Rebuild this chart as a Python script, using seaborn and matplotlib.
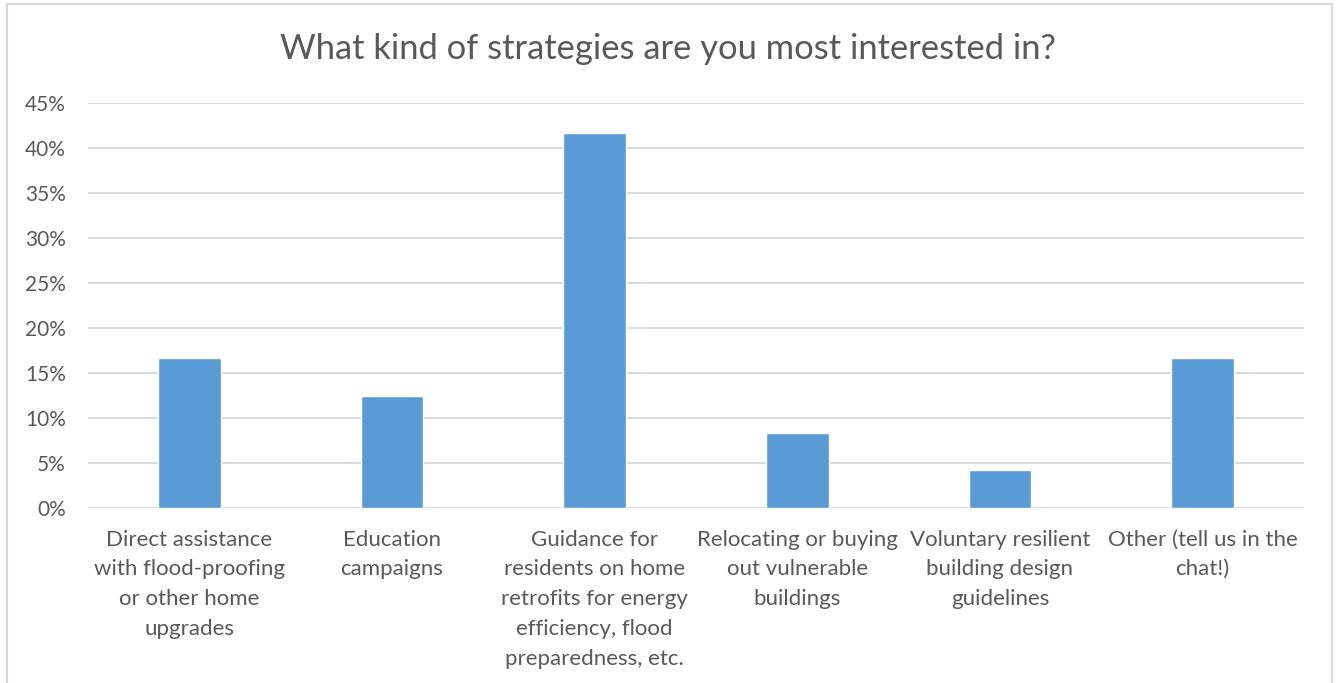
import matplotlib
matplotlib.use("Agg")
import matplotlib.pyplot as plt
import matplotlib.patches as mpatches
from matplotlib.ticker import FuncFormatter, MultipleLocator
import seaborn as sns
import pandas as pd

# Survey results: share of respondents interested in each strategy
categories = [
    "Direct assistance\nwith flood-proofing\nor other home\nupgrades",
    "Education\ncampaigns",
    "Guidance for\nresidents on home\nretrofits for energy\nefficiency, flood\npreparedness, etc.",
    "Relocating or buying\nout vulnerable\nbuildings",
    "Voluntary resilient\nbuilding design\nguidelines",
    "Other (tell us in the\nchat!)",
]
shares = [0.1667, 0.125, 0.4167, 0.0833, 0.0417, 0.1667]
title = "What kind of strategies are you most interested in?"

sns.set_theme(style="white")
plt.rcParams["font.family"] = ["Lato", "DejaVu Sans"]

text_color = "#595959"
grid_color = "#d9d9d9"
bar_color = "#5b9bd5"

df = pd.DataFrame({"strategy": categories, "share": shares})

fig = plt.figure(figsize=(13.36, 6.83), dpi=100)
ax = fig.add_axes([0.0659, 0.2562, 0.9101, 0.5930])

sns.barplot(data=df, x="strategy", y="share", color=bar_color, width=0.31,
            saturation=1, ax=ax, zorder=3)

ax.set_ylim(0, 0.45)
ax.set_xlim(-0.5, len(categories) - 0.5)
ax.yaxis.set_major_locator(MultipleLocator(0.05))
ax.yaxis.set_major_formatter(FuncFormatter(lambda v, _: f"{v * 100:.0f}%"))
ax.grid(axis="y", color=grid_color, linewidth=1.3, zorder=0)
ax.set_axisbelow(True)
for s in ax.spines.values():
    s.set_visible(False)
ax.set_xlabel("")
ax.set_ylabel("")
ax.set_xticks(range(len(categories)))
ax.set_xticklabels(categories, linespacing=1.61, va="top")
ax.tick_params(axis="y", length=0, pad=16, labelsize=15, labelcolor=text_color)
ax.tick_params(axis="x", length=0, pad=15.5, labelsize=16, labelcolor=text_color)

fig.text(0.5, 1 - 49 / 683, title, ha="center", va="center",
         fontsize=24.8, color=text_color)

# Chart frame
frame = mpatches.Rectangle((7 / 1336, -0.05), 1325 / 1336, 1.05 - 4 / 683,
                           transform=fig.transFigure, fill=False,
                           edgecolor=grid_color, linewidth=1.5)
fig.patches.append(frame)

fig.savefig("out.png", dpi=100, facecolor="white")
